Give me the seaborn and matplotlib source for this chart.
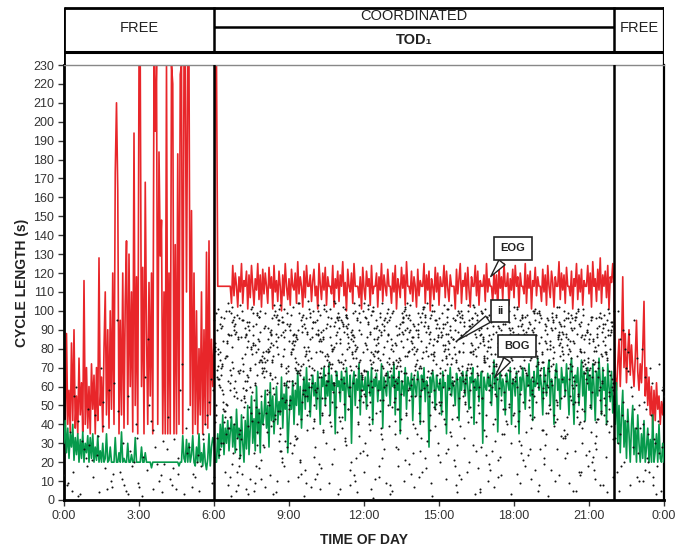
import numpy as np
import pandas as pd
import matplotlib
matplotlib.use("Agg")
import matplotlib.pyplot as plt
import seaborn as sns

# ---------------- data ----------------
# EOG (red) -- free period 0:00-5:57, 3-min steps
red_free = [60, 35, 88, 40, 58, 36, 83, 42, 90, 38,
            55, 35, 75, 45, 62, 36, 116, 40, 70, 38,
            60, 35, 72, 48, 66, 35, 70, 42, 128, 50,
            65, 36, 80, 110, 45, 90, 38, 100, 48, 120,
            40, 173, 210, 164, 35, 95, 45, 120, 38, 105,
            137, 40, 130, 60, 110, 36, 194, 50, 118, 35,
            230, 230, 60, 123, 35, 168, 90, 40, 115, 55,
            120, 35, 230, 195, 230, 40, 184, 129, 148, 35,
            110, 35, 230, 35, 120, 35, 230, 220, 35, 135,
            35, 183, 40, 225, 230, 35, 230, 230, 110, 230,
            230, 50, 153, 35, 120, 40, 100, 35, 80, 45,
            110, 35, 90, 40, 131, 38, 137, 45, 85, 60]
# EOG coordinated 6:00-22:00
red_coord = [84, 230, 230, 113, 113, 113, 113, 113, 113, 113, 113, 113, 113, 113, 104, 124, 108, 120, 113, 102,
             118, 110, 125, 104, 116, 113, 121, 101, 119, 107, 124, 113, 103, 117, 111, 125, 106, 119, 102, 122,
             109, 120, 113, 104, 123, 112, 118, 101, 124, 110, 116, 105, 121, 113, 100, 119, 108, 125, 113, 106,
             117, 103, 122, 113, 111, 120, 104, 126, 109, 118, 113, 102, 121, 107, 124, 113, 113, 119, 105, 116,
             122, 108, 113, 101, 125, 114, 106, 120, 111, 123, 103, 118, 113, 113, 109, 124, 102, 117, 112, 121,
             105, 119, 113, 126, 108, 115, 100, 122, 113, 110, 120, 104, 125, 113, 113, 113, 107, 118, 101, 123,
             112, 106, 121, 113, 117, 103, 124, 109, 113, 113, 120, 102, 118, 111, 125, 105, 119, 113, 108, 122,
             113, 113, 104, 120, 110, 124, 101, 117, 113, 107, 123, 112, 119, 103, 126, 113, 113, 109, 121, 105,
             118, 113, 102, 122, 108, 116, 113, 113, 125, 104, 119, 111, 121, 100, 117, 113, 106, 123, 110, 120,
             103, 118, 113, 113, 124, 107, 121, 112, 105, 119, 113, 113, 113, 101, 122, 109, 117, 125, 104, 116,
             113, 120, 106, 123, 111, 102, 118, 113, 113, 124, 108, 121, 103, 116, 113, 113, 119, 105, 125, 110,
             117, 113, 113, 104, 121, 109, 119, 100, 123, 112, 118, 106, 125, 113, 113, 120, 103, 117, 111, 122,
             107, 124, 113, 118, 102, 120, 113, 113, 109, 125, 104, 119, 112, 121, 101, 116, 113, 123, 108, 118,
             113, 113, 105, 122, 110, 119, 103, 124, 113, 107, 121, 115, 102, 118, 113, 113, 126, 106, 120, 111,
             119, 104, 123, 113, 113, 108, 121, 101, 117, 113, 125, 106, 119, 110, 122, 103, 116, 113, 113, 124,
             109, 120, 102, 126, 113, 117, 105, 122, 111, 128, 104, 119, 113, 121, 107, 124, 101, 118, 115, 125,
             113]
# EOG free period 22:03-24:00
red_late = [65, 58, 72, 85, 60, 80, 118, 70, 88, 62, 78, 90, 66, 82, 70, 60, 75, 95, 68, 58,
            72, 62, 80, 105, 55, 70, 50, 65, 45, 60, 38, 58, 42, 62, 48, 55, 40, 52, 45, 55]

# BOG (green)
green_free = [30, 42, 25, 38, 22, 35, 28, 40, 21, 33,
              24, 35, 20, 32, 22, 36, 20, 30, 25, 34,
              20, 33, 22, 35, 20, 28, 21, 34, 20, 26,
              20, 30, 20, 22, 35, 20, 21, 28, 20, 20,
              20, 33, 20, 20, 25, 20, 36, 20, 22, 20,
              20, 30, 20, 20, 24, 20, 20, 33, 20, 20,
              20, 20, 28, 20, 20, 25, 20, 20, 20, 20,
              17, 20, 20, 20, 20, 20, 20, 20, 20, 20,
              20, 20, 20, 20, 20, 20, 20, 20, 20, 20,
              20, 20, 18, 20, 20, 34, 22, 20, 32, 20,
              30, 20, 24, 34, 20, 18, 28, 20, 35, 20,
              25, 18, 30, 20, 16, 22, 35, 18, 28, 33]
green_coord = [30, 20, 20, 35, 22, 40, 28, 45, 24, 38, 30, 42, 26, 36, 44, 28, 40, 25, 48, 33,
               38, 22, 45, 30, 20, 42, 27, 50, 24, 38, 55, 30, 43, 26, 60, 35, 48, 25, 52, 40,
               45, 58, 38, 50, 28, 62, 42, 55, 35, 48, 60, 40, 52, 45, 65, 38, 56, 48, 62, 25,
               42, 55, 48, 63, 40, 58, 50, 68, 45, 60, 38, 55, 65, 48, 70, 52, 62, 44, 58, 66,
               55, 62, 48, 68, 58, 40, 65, 60, 70, 50, 63, 55, 72, 45, 66, 58, 62, 35, 68, 60,
               63, 52, 68, 58, 65, 42, 70, 60, 55, 66, 30, 62, 68, 50, 64, 58, 72, 45, 66, 60,
               58, 65, 48, 68, 62, 55, 70, 40, 64, 60, 67, 52, 63, 58, 72, 38, 65, 60, 55, 68,
               62, 50, 66, 60, 72, 45, 64, 58, 68, 35, 63, 60, 55, 70, 48, 65, 62, 58, 67, 42,
               65, 60, 55, 68, 62, 40, 66, 58, 70, 52, 63, 60, 28, 65, 57, 68, 62, 48, 66, 60,
               58, 64, 45, 68, 60, 62, 35, 66, 58, 70, 55, 63, 60, 50, 67, 62, 42, 65, 58, 68,
               62, 55, 68, 60, 48, 65, 62, 70, 40, 64, 58, 66, 52, 62, 68, 30, 65, 60, 58, 67,
               60, 66, 50, 63, 74, 58, 65, 36, 62, 68, 55, 64, 60, 45, 67, 62, 58, 70, 40, 64,
               62, 55, 68, 60, 35, 65, 58, 70, 62, 48, 66, 60, 72, 55, 64, 42, 68, 60, 62, 75,
               58, 66, 60, 45, 70, 62, 55, 68, 74, 50, 64, 60, 40, 66, 72, 58, 64, 48, 70, 62,
               65, 55, 72, 60, 45, 68, 75, 58, 40, 66, 62, 70, 50, 64, 74, 55, 68, 42, 62, 70,
               58, 66, 48, 72, 60, 42, 68, 55, 75, 62, 45, 70, 58, 65, 40, 72, 60, 52, 68, 46,
               55]
green_late = [40, 62, 30, 50, 25, 45, 58, 28, 42, 22, 48, 35, 20, 40, 50, 24, 38, 20, 45, 30,
              20, 35, 22, 42, 20, 28, 38, 20, 32, 20, 45, 20, 26, 35, 20, 40, 22, 20, 30, 20]

# ii (black dots), per hour of day
dots = {
    0: [5, 18, 42, 9, 27, 55, 13, 3, 36, 22, 60, 8, 31, 15, 48, 2],
    1: [24, 7, 39, 12, 58, 4, 29, 17, 45, 10, 70, 21, 6, 34, 14, 52],
    2: [11, 33, 3, 47, 20, 8, 62, 26, 15, 40, 5, 95, 18, 30, 9, 55],
    3: [16, 4, 37, 23, 10, 50, 7, 28, 65, 13, 42, 2, 19, 85, 31, 6],
    4: [8, 25, 14, 44, 3, 32, 19, 58, 11, 38, 6, 27, 72, 17, 48, 22],
    5: [20, 9, 35, 14, 52, 5, 28, 40, 12, 64, 18, 7, 45, 24, 58, 32],
    6: [72, 15, 88, 64, 97, 41, 80, 58, 93, 27, 76, 69, 102, 52, 85, 8, 61, 90, 47, 79, 99, 66, 33, 84,
        71, 95, 56, 22, 87, 74, 63, 100, 45, 81, 92, 68, 38, 77, 59, 96, 83, 12, 70, 89, 50, 65, 94, 30],
    7: [81, 67, 99, 44, 73, 90, 18, 62, 86, 55, 101, 75, 36, 92, 68, 83, 49, 97, 60, 24, 78, 88, 70, 57,
        95, 41, 84, 65, 5, 91, 74, 80, 53, 98, 63, 29, 87, 72, 46, 94, 69, 82, 58, 11, 77, 100, 66, 39],
    8: [64, 93, 77, 52, 86, 103, 70, 35, 89, 61, 97, 74, 20, 82, 68, 95, 57, 80, 43, 99, 72, 87, 63, 10,
        91, 76, 59, 84, 101, 66, 31, 88, 79, 54, 96, 71, 47, 85, 62, 98, 73, 26, 90, 67, 81, 56, 94, 3],
    9: [85, 70, 98, 61, 79, 104, 48, 91, 75, 66, 95, 83, 37, 72, 100, 58, 88, 64, 21, 93, 77, 69, 86, 52,
        102, 74, 90, 43, 81, 62, 97, 14, 78, 89, 67, 94, 56, 84, 71, 99, 30, 76, 87, 60, 92, 80, 45, 68],
    10: [78, 96, 63, 88, 105, 71, 42, 92, 67, 83, 100, 59, 19, 86, 74, 97, 65, 81, 50, 94, 70, 89, 36, 77,
         103, 62, 85, 73, 9, 98, 68, 91, 57, 80, 46, 95, 76, 87, 61, 101, 28, 72, 84, 66, 93, 54, 79, 90],
    11: [91, 66, 84, 102, 73, 55, 97, 79, 33, 88, 69, 94, 81, 48, 100, 75, 62, 90, 16, 85, 71, 98, 58, 77,
         93, 40, 83, 68, 104, 74, 25, 89, 64, 96, 80, 52, 87, 70, 99, 60, 6, 82, 92, 67, 78, 44, 95, 86],
    12: [70, 99, 83, 61, 92, 76, 104, 47, 88, 67, 95, 80, 22, 73, 101, 86, 57, 90, 65, 97, 38, 78, 84, 69,
         94, 53, 100, 75, 12, 89, 63, 82, 96, 71, 43, 87, 79, 103, 60, 91, 30, 74, 98, 66, 85, 50, 93, 77],
    13: [87, 64, 96, 79, 53, 91, 72, 102, 35, 84, 68, 99, 76, 18, 93, 81, 60, 89, 74, 97, 45, 70, 86, 63,
         100, 78, 27, 92, 67, 83, 95, 56, 80, 104, 71, 40, 88, 65, 98, 75, 8, 90, 82, 61, 94, 49, 85, 73],
    14: [75, 93, 68, 86, 100, 59, 81, 96, 42, 72, 89, 64, 103, 78, 24, 91, 70, 85, 98, 55, 77, 94, 66, 31,
         88, 74, 101, 62, 83, 97, 48, 79, 90, 69, 15, 86, 76, 99, 58, 92, 71, 37, 84, 95, 65, 80, 52, 102],
    15: [94, 71, 85, 60, 99, 77, 46, 90, 82, 67, 103, 74, 29, 88, 63, 96, 79, 54, 92, 70, 84, 11, 98, 75,
         66, 89, 101, 58, 81, 93, 39, 72, 86, 64, 97, 78, 50, 91, 69, 83, 20, 95, 76, 100, 62, 87, 44, 80],
    16: [82, 97, 66, 89, 74, 102, 57, 93, 78, 34, 86, 70, 99, 63, 84, 17, 95, 76, 88, 51, 100, 72, 91, 67,
         41, 85, 79, 98, 60, 92, 73, 26, 87, 68, 96, 81, 55, 103, 75, 90, 64, 4, 83, 94, 71, 47, 99, 77],
    17: [68, 91, 84, 73, 100, 59, 87, 95, 43, 78, 66, 97, 82, 21, 89, 75, 62, 94, 80, 52, 101, 71, 86, 35,
         92, 69, 83, 98, 57, 77, 90, 13, 85, 74, 96, 64, 48, 88, 79, 102, 61, 93, 72, 30, 86, 67, 99, 81],
    18: [93, 76, 61, 88, 99, 70, 84, 45, 95, 79, 67, 102, 56, 90, 73, 24, 86, 81, 97, 63, 38, 92, 75, 87,
         68, 100, 52, 83, 94, 71, 16, 89, 78, 65, 98, 60, 85, 42, 91, 74, 96, 80, 29, 87, 66, 101, 58, 77],
    19: [80, 64, 95, 73, 87, 50, 99, 69, 84, 34, 91, 77, 102, 60, 88, 72, 19, 94, 82, 66, 97, 46, 79, 90,
         57, 85, 70, 100, 39, 93, 76, 63, 86, 27, 96, 74, 81, 54, 89, 68, 98, 10, 83, 92, 61, 78, 43, 95],
    20: [71, 89, 56, 96, 78, 63, 92, 41, 84, 70, 99, 25, 87, 65, 93, 52, 80, 74, 97, 33, 86, 68, 90, 47,
         77, 101, 59, 83, 15, 94, 72, 61, 88, 38, 96, 75, 55, 85, 67, 91, 22, 79, 98, 64, 44, 82, 73, 5],
    21: [86, 60, 93, 74, 48, 97, 69, 82, 30, 90, 77, 57, 95, 65, 12, 84, 72, 99, 53, 88, 40, 79, 94, 62,
         23, 87, 70, 100, 45, 81, 66, 96, 36, 75, 91, 58, 8, 85, 68, 92, 50, 78, 27, 89, 63, 97, 42, 73],
    22: [45, 12, 78, 30, 95, 20, 62, 8, 85, 38, 70, 15, 55, 90, 25, 68, 5, 48, 80, 33, 60, 18, 75, 42,
         100, 28, 52, 10, 88, 35],
    23: [22, 58, 8, 40, 72, 15, 50, 30, 65, 5, 45, 80, 18, 35, 60, 12, 52, 25, 70, 38, 3, 48, 28, 62,
         10, 42, 20, 55, 32, 16],
}
# more ii dots, coordinated hours (mostly in the dense band)
dots_band = {
    6: [66, 91, 54, 83, 101, 70, 47, 95, 62, 78, 88, 35, 99, 73, 58, 86, 104, 64, 92, 44, 81, 69, 97, 57,
        76, 90, 25, 84, 67, 100, 60, 93, 75, 50, 87, 71, 98, 63, 80, 40],
    7: [93, 58, 76, 102, 68, 85, 49, 96, 72, 63, 89, 81, 32, 99, 66, 78, 92, 55, 84, 70, 103, 61, 87, 74,
        42, 95, 80, 65, 91, 53, 77, 100, 69, 86, 18, 94, 73, 82, 59, 97],
    8: [71, 88, 99, 62, 80, 94, 56, 75, 103, 67, 90, 84, 46, 97, 73, 60, 86, 79, 101, 65, 92, 38, 83, 70,
        98, 58, 89, 76, 63, 95, 81, 52, 100, 68, 87, 74, 28, 93, 78, 61],
    9: [96, 73, 62, 89, 80, 105, 67, 92, 55, 84, 99, 71, 77, 88, 40, 94, 64, 82, 101, 69, 90, 58, 86, 75,
        97, 63, 81, 104, 50, 93, 70, 85, 66, 98, 79, 33, 91, 72, 87, 60],
    10: [82, 65, 97, 74, 90, 57, 103, 69, 86, 79, 94, 61, 88, 72, 45, 99, 67, 84, 92, 76, 58, 101, 70, 87,
         63, 95, 80, 37, 91, 73, 85, 104, 66, 78, 96, 54, 89, 71, 100, 62],
    11: [75, 98, 64, 87, 92, 70, 81, 57, 100, 68, 94, 85, 73, 49, 96, 78, 62, 89, 103, 71, 83, 66, 97, 58,
         90, 77, 41, 93, 69, 86, 101, 74, 60, 95, 80, 88, 65, 99, 72, 53],
    12: [89, 63, 94, 78, 101, 70, 85, 56, 97, 74, 66, 91, 82, 104, 60, 88, 75, 44, 95, 69, 83, 99, 72, 61,
         92, 86, 77, 102, 65, 90, 52, 96, 79, 68, 87, 100, 73, 58, 93, 81],
    13: [67, 92, 80, 99, 72, 58, 88, 95, 76, 63, 103, 84, 70, 91, 48, 86, 97, 61, 79, 93, 68, 101, 74, 55,
         89, 82, 96, 65, 77, 100, 42, 90, 71, 85, 98, 62, 83, 94, 73, 59],
    14: [98, 70, 84, 61, 93, 77, 102, 66, 89, 55, 95, 81, 72, 100, 64, 87, 92, 46, 78, 97, 69, 85, 58, 91,
         104, 74, 82, 63, 96, 88, 71, 39, 94, 79, 67, 99, 84, 57, 90, 76],
    15: [73, 88, 96, 65, 82, 100, 59, 91, 77, 69, 94, 86, 52, 98, 72, 83, 61, 103, 79, 90, 67, 95, 75, 87,
         43, 99, 70, 84, 92, 63, 80, 97, 56, 89, 74, 101, 66, 85, 93, 78],
    16: [91, 67, 79, 98, 72, 86, 60, 94, 83, 70, 101, 76, 89, 54, 96, 65, 81, 92, 73, 99, 62, 87, 78, 45,
         95, 69, 84, 103, 71, 90, 58, 97, 80, 66, 88, 93, 75, 50, 100, 82],
    17: [79, 95, 62, 87, 100, 73, 91, 58, 84, 97, 68, 90, 77, 103, 64, 86, 93, 71, 49, 98, 81, 66, 89, 75,
         96, 60, 85, 92, 70, 101, 56, 88, 78, 94, 63, 99, 74, 83, 40, 91],
    18: [85, 70, 99, 77, 92, 63, 88, 102, 74, 56, 95, 81, 67, 90, 97, 72, 84, 47, 100, 79, 65, 93, 86, 71,
         98, 60, 89, 76, 94, 53, 82, 101, 69, 87, 75, 96, 62, 91, 80, 44],
    19: [68, 92, 81, 97, 59, 86, 74, 100, 65, 90, 83, 71, 96, 52, 88, 77, 94, 63, 102, 80, 69, 91, 57, 85,
         99, 73, 87, 46, 95, 78, 66, 93, 84, 70, 98, 61, 89, 75, 37, 82],
    20: [94, 75, 62, 88, 99, 71, 83, 55, 92, 79, 67, 97, 86, 48, 90, 73, 101, 64, 85, 95, 58, 80, 91, 69,
         76, 35, 98, 84, 66, 93, 72, 87, 52, 96, 78, 61, 89, 100, 70, 42],
    21: [77, 96, 64, 89, 72, 101, 58, 85, 93, 68, 80, 46, 97, 74, 88, 62, 91, 79, 55, 99, 70, 86, 34, 94,
         76, 65, 90, 82, 51, 98, 73, 87, 60, 95, 78, 43, 92, 69, 84, 57],
}
# more ii dots, coordinated hours (below the band)
dots_low = {
    6: [12, 44, 27, 5, 51, 33, 19, 48, 8, 38, 24, 55, 15, 41, 2, 30],
    7: [35, 9, 52, 21, 46, 14, 29, 3, 40, 25, 54, 17, 11, 37, 49, 6],
    8: [28, 47, 13, 53, 4, 36, 22, 42, 10, 31, 50, 18, 45, 7, 26, 39],
    9: [50, 16, 34, 7, 43, 25, 55, 12, 38, 2, 29, 47, 20, 53, 9, 32],
    10: [23, 41, 6, 49, 30, 14, 52, 36, 3, 45, 19, 27, 54, 11, 39, 17],
    11: [44, 10, 31, 55, 20, 38, 4, 48, 26, 13, 51, 34, 8, 42, 22, 29],
    12: [15, 53, 37, 9, 46, 24, 32, 1, 50, 18, 40, 27, 11, 55, 35, 6],
    13: [39, 21, 54, 14, 43, 5, 33, 48, 25, 10, 52, 19, 37, 3, 46, 28],
    14: [7, 45, 26, 51, 17, 35, 2, 42, 30, 55, 12, 49, 22, 38, 9, 33],
    15: [52, 18, 40, 11, 34, 47, 4, 27, 55, 21, 43, 13, 36, 50, 8, 25],
    16: [33, 6, 49, 24, 41, 15, 54, 29, 10, 46, 20, 37, 3, 52, 28, 44],
    17: [19, 48, 31, 3, 53, 26, 40, 12, 45, 35, 7, 51, 23, 16, 42, 55],
    18: [46, 27, 9, 52, 36, 14, 43, 21, 5, 49, 31, 55, 18, 39, 11, 25],
    19: [8, 41, 29, 54, 16, 37, 50, 2, 33, 45, 22, 13, 48, 27, 53, 35],
    20: [37, 13, 55, 24, 5, 44, 30, 51, 18, 40, 9, 47, 26, 34, 15, 53],
    21: [26, 50, 11, 39, 47, 20, 4, 43, 32, 54, 16, 36, 8, 49, 23, 41],
}

x_ticks = [0, 3, 6, 9, 12, 15, 18, 21, 24]
x_tick_labels = ["0:00", "3:00", "6:00", "9:00", "12:00", "15:00", "18:00", "21:00", "0:00"]
y_ticks = list(range(0, 231, 10))

# ---------------- build tables ----------------
t_red = np.concatenate([
    np.linspace(0, 6, len(red_free), endpoint=False),
    np.linspace(6, 22, len(red_coord)),
    np.linspace(22, 24, len(red_late) + 1)[1:],
])
y_red = np.array(red_free + red_coord + red_late, dtype=float)
t_green = np.concatenate([
    np.linspace(0, 6, len(green_free), endpoint=False),
    np.linspace(6, 22, len(green_coord)),
    np.linspace(22, 24, len(green_late) + 1)[1:],
])
y_green = np.array(green_free + green_coord + green_late, dtype=float)

red_df = pd.DataFrame({"t": t_red, "y": y_red})
green_df = pd.DataFrame({"t": t_green, "y": y_green})

GOLD = 0.6180339887
dt, dy = [], []
for offset, table in ((0.0, dots), (0.37, dots_band), (0.71, dots_low)):
    for h, vals in table.items():
        idx = np.arange(len(vals))
        dt.extend(h + np.mod(offset + (idx + 0.5) * GOLD, 1.0))
        dy.extend(vals)
dots_df = pd.DataFrame({"t": dt, "y": dy})

# ---------------- style ----------------
sns.set_theme(style="white")
plt.rcParams["font.family"] = ["Liberation Sans", "DejaVu Sans"]

W, H = 675, 548
fig = plt.figure(figsize=(W / 100, H / 100), dpi=100)

L, R, T, B = 64, 664, 65, 500
ax = fig.add_axes([L / W, 1 - B / H, (R - L) / W, (B - T) / H])
hx = fig.add_axes([L / W, 1 - T / H, (R - L) / W, (T - 7) / H])

RED = "#e8262a"
GREEN = "#079a4c"

sns.lineplot(data=red_df, x="t", y="y", ax=ax, color=RED, lw=1.2,
             estimator=None, sort=False, zorder=2)
sns.lineplot(data=green_df, x="t", y="y", ax=ax, color=GREEN, lw=1.2,
             estimator=None, sort=False, zorder=3)
sns.scatterplot(data=dots_df, x="t", y="y", ax=ax, color="#111111", s=2.2,
                linewidth=0, zorder=4)

ax.set_xlim(0, 24)
ax.set_ylim(0, 230)
ax.set_yticks(y_ticks)
ax.set_yticklabels([str(v) for v in y_ticks])
ax.set_xticks(x_ticks)
ax.set_xticklabels(x_tick_labels)
ax.tick_params(axis="both", which="major", direction="out", length=4, width=1,
               color="#333333", labelsize=9, labelcolor="#333333", pad=3,
               left=True, bottom=True)
ax.set_xlabel("TIME OF DAY", fontsize=10, fontweight="bold", color="#222222", labelpad=8)
ax.set_ylabel("CYCLE LENGTH (s)", fontsize=10, fontweight="bold", color="#222222", labelpad=3)

for side, lw, col in [("left", 2.0, "black"), ("bottom", 2.0, "black"),
                      ("right", 1.6, "black"), ("top", 1.0, "#888888")]:
    ax.spines[side].set_visible(True)
    ax.spines[side].set_linewidth(lw)
    ax.spines[side].set_color(col)
for xv in (6, 22):
    ax.axvline(xv, color="black", lw=1.8, zorder=5)
ax.grid(False)

# annotations
box = dict(boxstyle="square,pad=0.55", fc="white", ec="#222222", lw=1.2)
arr = dict(arrowstyle="wedge,tail_width=0.7,shrink_factor=0.5", fc="white",
           ec="#222222", lw=1.0)
for label, xy, xytext in [("EOG", (17.0, 117), (17.96, 133)),
                          ("ii", (15.64, 83.5), (17.44, 100)),
                          ("BOG", (17.16, 63.5), (18.12, 81.5))]:
    ax.annotate(label, xy=xy, xytext=xytext, textcoords="data", fontsize=8,
                fontweight="bold", color="#222222", ha="center", va="center",
                bbox=box, arrowprops=arr, zorder=10)

# header band
hx.set_xlim(0, 24)
hx.set_ylim(0, 58)
hx.axis("off")
kw = dict(color="black", solid_capstyle="butt")
hx.plot([0, 24], [57.5, 57.5], lw=2.0, **kw)
hx.plot([0, 24], [13, 13], lw=2.2, **kw)
hx.plot([6, 22], [38, 38], lw=1.8, **kw)
hx.plot([0, 0], [0, 58], lw=2.0, **kw)
hx.plot([24, 24], [0, 58], lw=1.6, **kw)
hx.plot([6, 6], [13, 58], lw=1.8, **kw)
hx.plot([22, 22], [13, 58], lw=1.8, **kw)
hx.text(3, 37, "FREE", ha="center", va="center", fontsize=10.5, color="#222222")
hx.text(23, 37, "FREE", ha="center", va="center", fontsize=10.5, color="#222222")
hx.text(14, 49, "COORDINATED", ha="center", va="center", fontsize=10.5, color="#222222")
hx.text(14, 25, "TOD\u2081", ha="center", va="center", fontsize=10.5,
        fontweight="bold", color="#222222")

fig.savefig("out.png", dpi=100)
